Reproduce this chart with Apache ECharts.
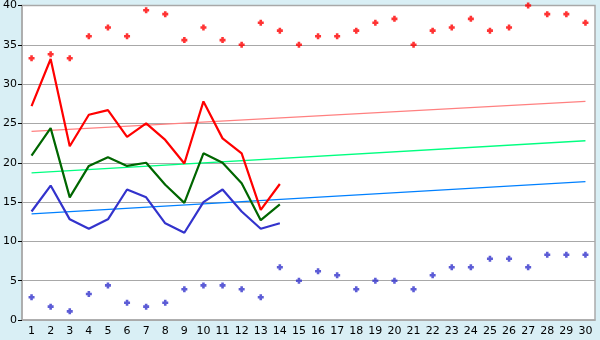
<!DOCTYPE html>
<html><head><meta charset="utf-8">
<script src="https://cdn.jsdelivr.net/npm/echarts@6/dist/echarts.min.js"></script>
<style>html,body{margin:0;padding:0;background:#d9eff5;}#c{width:600px;height:340px;}</style>
</head><body><div id="c"></div>
<script>
const categories = ['1','2','3','4','5','6','7','8','9','10','11','12','13','14','15','16','17','18','19','20','21','22','23','24','25','26','27','28','29','30'];
const yTicks = [0,5,10,15,20,25,30,35,40];
const redMarkers = [33.3,33.8,33.3,36.1,37.2,36.1,39.4,38.9,35.6,37.2,35.6,35.0,37.8,36.8,35.0,36.1,36.1,36.8,37.8,38.3,35.0,36.8,37.2,38.3,36.8,37.2,40.0,38.9,38.9,37.8];
const blueMarkers = [2.9,1.7,1.1,3.3,4.4,2.2,1.7,2.2,3.9,4.4,4.4,3.9,2.9,6.7,5.0,6.2,5.7,3.9,5.0,5.0,3.9,5.7,6.7,6.7,7.8,7.8,6.7,8.3,8.3,8.3];
const redLine = [27.2,33.2,22.1,26.1,26.7,23.3,25.0,22.9,19.9,27.8,23.1,21.2,14.0,17.3];
const greenLine = [20.9,24.4,15.6,19.6,20.7,19.6,20.0,17.2,14.9,21.2,20.0,17.4,12.7,14.7];
const blueLine = [13.8,17.1,12.8,11.6,12.8,16.6,15.6,12.3,11.1,15.0,16.6,13.8,11.6,12.3];
const redTrend = [24.0, 27.8];
const greenTrend = [18.7, 22.8];
const blueTrend = [13.5, 17.6];

const first = categories[0], last = categories[categories.length-1];
const plus = 'path://M2,0H5V2H7V5H5V7H2V5H0V2H2Z';
const font = 'DejaVu Sans';

const chart = echarts.init(document.getElementById('c'), null, {renderer:'canvas'});
chart.setOption({
  animation:false,
  backgroundColor:'#d9eff5',
  grid:{left:20,right:5,top:5,bottom:20,show:true,backgroundColor:'#ffffff',borderColor:'#aaaaaa',borderWidth:1.5},
  xAxis:{type:'category',data:categories,boundaryGap:true,
    axisLine:{lineStyle:{color:'#aaaaaa',width:1.5}},
    axisTick:{alignWithLabel:true,length:5,lineStyle:{color:'#000'}},
    axisLabel:{color:'#000',fontFamily:font,fontSize:11,margin:6,interval:0},
    splitLine:{show:false}},
  yAxis:{type:'value',min:yTicks[0],max:yTicks[yTicks.length-1],interval:5,
    axisLine:{show:true,lineStyle:{color:'#aaaaaa',width:1.5}},
    axisTick:{show:true,length:4,lineStyle:{color:'#000'}},
    axisLabel:{color:'#000',fontFamily:font,fontSize:11,margin:5},
    splitLine:{lineStyle:{color:'#a8a8a8',width:1.2}}},
  series:[
    {type:'line',data:[[first,redTrend[0]],[last,redTrend[1]]],symbol:'none',lineStyle:{color:'#ff8080',width:1.3},z:2},
    {type:'line',data:[[first,greenTrend[0]],[last,greenTrend[1]]],symbol:'none',lineStyle:{color:'#00ff80',width:1.3},z:2},
    {type:'line',data:[[first,blueTrend[0]],[last,blueTrend[1]]],symbol:'none',lineStyle:{color:'#0080ff',width:1.3},z:2},
    {type:'line',data:redLine,symbol:'none',lineStyle:{color:'#ff0000',width:2.2},z:3},
    {type:'line',data:greenLine,symbol:'none',lineStyle:{color:'#006600',width:2.2},z:3},
    {type:'line',data:blueLine,symbol:'none',lineStyle:{color:'#3333cc',width:2.2},z:3},
    {type:'scatter',data:redMarkers,symbol:plus,symbolSize:6,itemStyle:{color:'#ff0000'},z:4},
    {type:'scatter',data:blueMarkers,symbol:plus,symbolSize:6,itemStyle:{color:'#3333cc'},z:4}
  ]
});
</script></body></html>
